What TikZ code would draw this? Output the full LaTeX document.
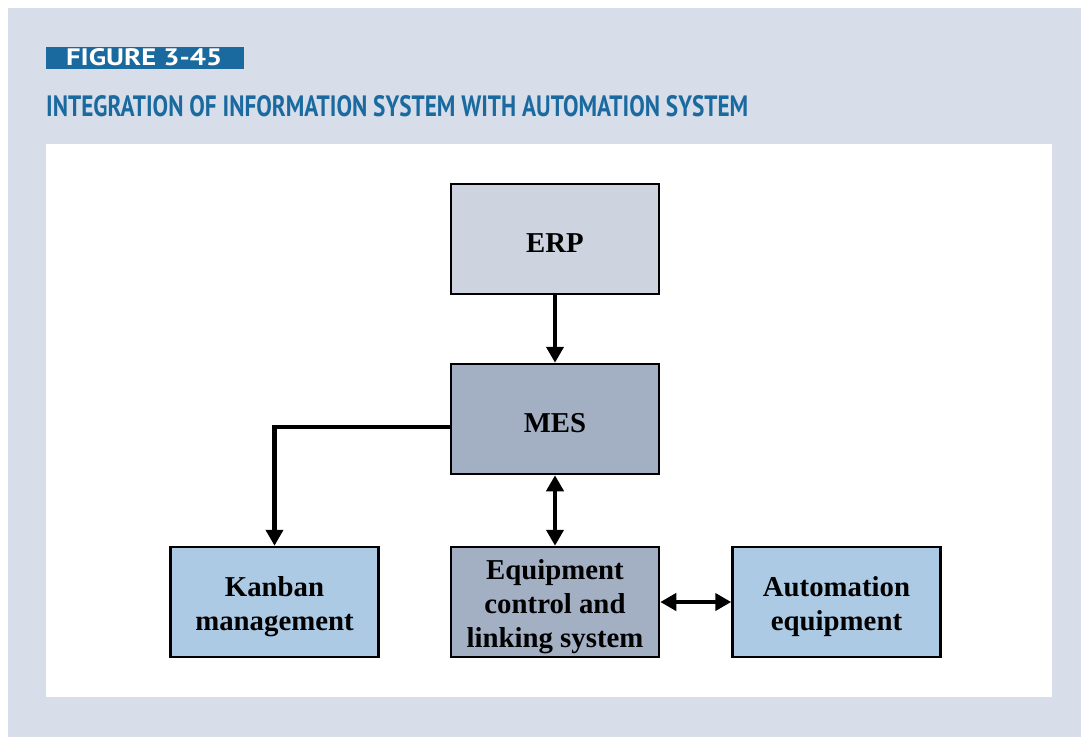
\documentclass[tikz,border=0pt]{standalone}
\usepackage{fontspec}
\setmainfont{Liberation Serif}
\newfontfamily\headfont{PT Sans}
\usetikzlibrary{arrows.meta}
\definecolor{panel}{HTML}{D8DEE9}
\definecolor{headblue}{HTML}{1A6AA0}
\definecolor{erpfill}{HTML}{CDD4E0}
\definecolor{mesfill}{HTML}{A3B0C4}
\definecolor{lbfill}{HTML}{ADCAE4}
\tikzset{
  box/.style={draw=black, line width=2.5pt, minimum width=208pt, minimum height=110pt,
    inner sep=0pt},
  boxtext/.style={font=\fontsize{28.8}{34}\selectfont\bfseries, align=center, inner sep=0pt},
  conn/.style={line width=4.5pt, line join=miter, -{Triangle[width=17pt,length=16pt]}},
  dconn/.style={line width=4.5pt, {Triangle[width=17pt,length=16pt]}-{Triangle[width=17pt,length=16pt]}}
}
\begin{document}
\begin{tikzpicture}[x=1pt,y=-1pt]
\useasboundingbox (0,0) rectangle (1081,737);
\fill[white] (0,0) rectangle (1081,737);
\fill[panel] (8,8) rectangle (1081,737);
\fill[white] (46,144) rectangle (1052,697);
% header
\fill[headblue] (46,47) rectangle (244,69);
\node[anchor=south west, inner sep=0pt, text=white] (fig) at (66,66)
  {\resizebox{156pt}{17pt}{\headfont\bfseries FIGURE 3-45}};
\node[anchor=south west, inner sep=0pt, text=headblue] (title) at (46,117.5)
  {\resizebox{702pt}{21pt}{\headfont\bfseries INTEGRATION OF INFORMATION SYSTEM WITH AUTOMATION SYSTEM}};
% boxes
\node[box, fill=erpfill] (erp) at (555,239) {};
\node[box, fill=mesfill] (mes) at (555,419) {};
\node[box, fill=lbfill] (kan) at (274.5,602) {};
\node[box, fill=mesfill] (eq) at (555,602) {};
\node[box, fill=lbfill] (auto) at (836.5,602) {};
\node[boxtext] (erpt) at ([yshift=-4.5pt]erp.center) {ERP};
\node[boxtext] (mest) at ([yshift=-4.5pt]mes.center) {MES};
\node[boxtext] (kant) at ([yshift=-4.5pt]kan.center) {Kanban\\management};
\node[boxtext] (eqt) at ([yshift=-4.5pt]eq.center) {Equipment\\control and\\linking system};
\node[boxtext] (autot) at ([yshift=-4.5pt]auto.center) {Automation\\equipment};
% connectors
\draw[conn] (erp.south) -- (mes.north);
\draw[conn] ([yshift=-8pt]mes.west) -| (kan.north);
\draw[dconn] (mes.south) -- (eq.north);
\draw[dconn] (eq.east) -- (auto.west);
\end{tikzpicture}
\end{document}
